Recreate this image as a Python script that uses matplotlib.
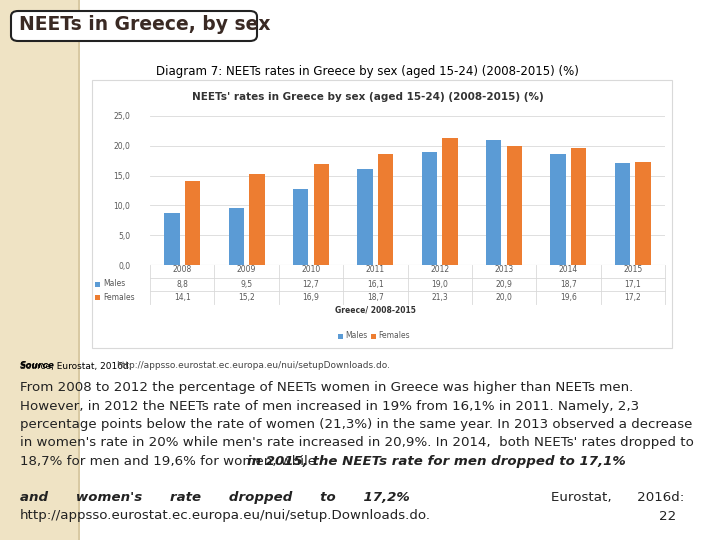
import matplotlib
matplotlib.use("Agg")
import matplotlib.pyplot as plt
import matplotlib.transforms as mtransforms
from matplotlib.patches import FancyBboxPatch, Rectangle
import numpy as np

# ── DATA ─────────────────────────────────────────────────
YEARS   = ["2008", "2009", "2010", "2011", "2012", "2013", "2014", "2015"]
MALES   = [8.8, 9.5, 12.7, 16.1, 19.0, 20.9, 18.7, 17.1]
FEMALES = [14.1, 15.2, 16.9, 18.7, 21.3, 20.0, 19.6, 17.2]
YTICKS  = [0, 5, 10, 15, 20, 25]

BLUE   = "#5B9BD5"
ORANGE = "#ED7D31"
GREY   = "#595959"

fig = plt.figure(figsize=(7.2, 5.4), dpi=100)
fig.patch.set_facecolor("white")

def px(x, y):
    return x / 720, 1 - y / 540

# left beige strip
fig.patches.append(Rectangle((0, 0), 78 / 720, 1, transform=fig.transFigure,
                             facecolor="#EFE3C4", edgecolor="none", zorder=0))
fig.patches.append(Rectangle((78 / 720, 0), 2 / 720, 1, transform=fig.transFigure,
                             facecolor="#D8C9A3", edgecolor="none", zorder=0))

# title box
fig.patches.append(FancyBboxPatch(px(11, 41), 246 / 720, 30 / 540,
                                  boxstyle="round,pad=0,rounding_size=0.01",
                                  transform=fig.transFigure, facecolor="white",
                                  edgecolor="#222222", linewidth=1.5, zorder=2))
fig.text(*px(19, 25), "NEETs in Greece, by sex", fontsize=13.5, fontweight="bold",
         color="#3A2A24", va="center", ha="left", zorder=3)

fig.text(*px(367, 72), "Diagram 7: NEETs rates in Greece by sex (aged 15-24) (2008-2015) (%)",
         fontsize=8.5, ha="center", va="center", color="black")

# chart image frame
fig.patches.append(Rectangle(px(92, 348), 580 / 720, 268 / 540, transform=fig.transFigure,
                             facecolor="white", edgecolor="#D9D9D9", linewidth=0.8, zorder=1))
fig.text(*px(368, 97), "NEETs' rates in Greece by sex (aged 15-24) (2008-2015) (%)",
         fontsize=7.5, fontweight="bold", ha="center", va="center", color="#333333", zorder=3)

ax = fig.add_axes([150 / 720, 1 - 265 / 540, 515 / 720, 149 / 540])
ax.set_zorder(3)
x = np.arange(len(YEARS))
w = 0.24
ax.bar(x - 0.16, MALES, w, color=BLUE, label="Males", zorder=3)
ax.bar(x + 0.16, FEMALES, w, color=ORANGE, label="Females", zorder=3)
ax.set_xlim(-0.5, len(YEARS) - 0.5)
ax.set_ylim(0, 25)
ax.set_yticks(YTICKS)
ax.set_yticklabels([f"{v:.1f}".replace(".", ",") for v in YTICKS], fontsize=5.5, color=GREY)
ax.set_xticks([])
ax.yaxis.grid(True, color="#D9D9D9", linewidth=0.6, zorder=0)
ax.tick_params(axis="y", length=0, pad=14)
for s in ax.spines.values():
    s.set_visible(False)
ax.axhline(0, color="#D9D9D9", linewidth=0.8)

# data table
tr = mtransforms.blended_transform_factory(ax.transData, ax.transAxes)
for i, yr in enumerate(YEARS):
    ax.text(i, -0.03, yr, transform=tr, ha="center", va="center", fontsize=5.5, color=GREY, clip_on=False)
    ax.text(i, -0.13, f"{MALES[i]:.1f}".replace(".", ","), transform=tr, ha="center",
            va="center", fontsize=5.5, color=GREY, clip_on=False)
    ax.text(i, -0.215, f"{FEMALES[i]:.1f}".replace(".", ","), transform=tr, ha="center",
            va="center", fontsize=5.5, color=GREY, clip_on=False)
for i in range(len(YEARS) + 1):
    ax.plot([i - 0.5, i - 0.5], [0, -0.26], transform=tr, color="#D9D9D9", lw=0.6, clip_on=False)
ax.plot([-0.5, len(YEARS) - 0.5], [-0.175, -0.175], transform=tr, color="#D9D9D9", lw=0.6, clip_on=False)
ax.plot([-0.5, len(YEARS) - 0.5], [-0.085, -0.085], transform=tr, color="#D9D9D9", lw=0.6, clip_on=False)

for yy, lbl, col in [(284, "Males", BLUE), (297, "Females", ORANGE)]:
    fig.patches.append(Rectangle(px(95, yy + 2.5), 5 / 720, 5 / 540, transform=fig.transFigure,
                                 facecolor=col, edgecolor="none", zorder=4))
    fig.text(*px(103, yy), lbl, fontsize=5.5, color=GREY, va="center", zorder=4)

fig.text(*px(375, 310), "Greece/ 2008-2015", fontsize=5.5, fontweight="bold",
         ha="center", va="center", color="#333333", zorder=4)
for xx, lbl, col in [(338, "Males", BLUE), (371, "Females", ORANGE)]:
    fig.patches.append(Rectangle(px(xx, 338.5), 5 / 720, 5 / 540, transform=fig.transFigure,
                                 facecolor=col, edgecolor="none", zorder=4))
    fig.text(*px(xx + 7, 336), lbl, fontsize=5.5, color=GREY, va="center", zorder=4)

# source
fig.text(*px(20, 366), "Source, Eurostat, 2016d: ", fontsize=6.5, va="center", color="black")
fig.text(*px(20, 366), "Source", fontsize=6.5, va="center", style="italic", fontweight="bold", color="black")
fig.text(*px(116, 366), "http://appsso.eurostat.ec.europa.eu/nui/setupDownloads.do.", fontsize=6.5,
         va="center", color="#444444")

# body text
LINES = [
    "From 2008 to 2012 the percentage of NEETs women in Greece was higher than NEETs men.",
    "However, in 2012 the NEETs rate of men increased in 19% from 16,1% in 2011. Namely, 2,3",
    "percentage points below the rate of women (21,3%) in the same year. In 2013 observed a decrease",
    "in women's rate in 20% while men's rate increased in 20,9%. In 2014,  both NEETs' rates dropped to",
    "18,7% for men and 19,6% for women, while",
]
for i, ln in enumerate(LINES):
    fig.text(*px(20, 388 + i * 18.3), ln, fontsize=9.6, va="center", color="#222222")
fig.text(*px(247, 461.2), "in 2015, the NEETs rate for men dropped to 17,1%", fontsize=9.6,
         va="center", style="italic", fontweight="bold", color="#222222")
fig.text(*px(20, 497.5), "and      women's      rate      dropped      to      17,2%", fontsize=9.6,
         va="center", style="italic", fontweight="bold", color="#222222")
fig.text(*px(684, 497.5), "Eurostat,      2016d:", fontsize=9.6, va="center", ha="right", color="#222222")
fig.text(*px(20, 515), "http://appsso.eurostat.ec.europa.eu/nui/setup.Downloads.do.", fontsize=9.6,
         va="center", color="#222222")
fig.text(*px(676, 517), "22", fontsize=9.6, va="center", ha="right", color="#222222")

fig.savefig("out.png", dpi=100)
